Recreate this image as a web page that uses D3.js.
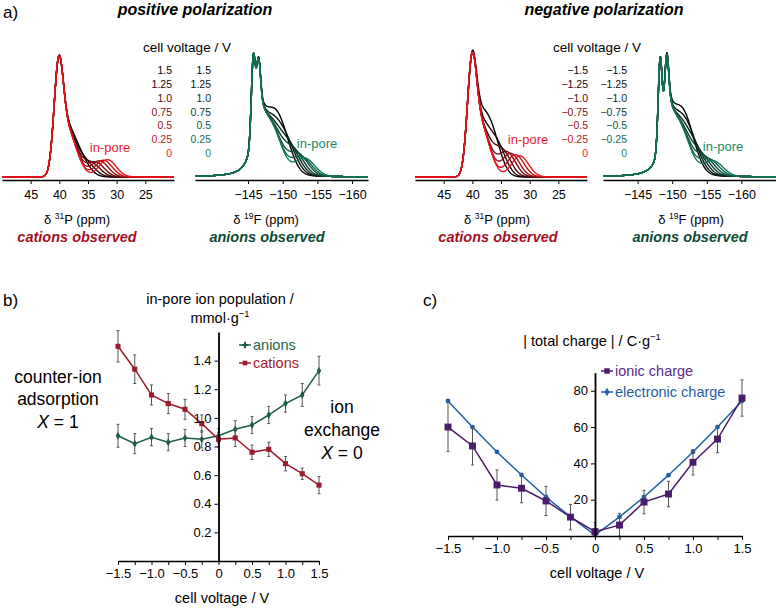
<!DOCTYPE html>
<html>
<head>
<meta charset="utf-8">
<script src="https://cdn.jsdelivr.net/npm/d3@7"></script>
<style>
  body { margin: 0; background: #fff; }
  svg { font-family: "Liberation Sans", Arial, sans-serif; }
</style>
</head>
<body>
<div id="chart"></div>
<script>
const width = 776, height = 608;

// ---------- panel a: NMR spectra ----------
// legend labels, top row first
const posLabels = ["1.5", "1.25", "1.0", "0.75", "0.5", "0.25", "0"];
const negLabels = ["\u22121.5", "\u22121.25", "\u22121.0", "\u22120.75", "\u22120.5", "\u22120.25", "0"];
const pTicks = [45, 40, 35, 30, 25];
const fTicks = [-145, -150, -155, -160];

// line components: [centre ppm, height, width, 0 = gauss / 1 = lorentz]
const pBulkPos = [[40.15, 0.8, 0.8, 0], [38.8, 0.3, 1.2, 0], [37.2, 0.13, 1.3, 0]];
const pBulkNeg = [[40.1, 0.8, 0.8, 0], [38.8, 0.32, 1.2, 0], [37.3, 0.15, 1.3, 0]];
const fBulkPos = [[-145.75, 0.62, 0.28, 0], [-146.5, 0.36, 0.28, 0], [-146.55, 0.42, 1.1, 1], [-148.3, 0.34, 1.5, 0]];
const fBulkNeg = [[-148.25, 0.68, 0.28, 0], [-149.2, 0.40, 0.28, 0], [-149.3, 0.42, 1.1, 1], [-151.0, 0.34, 1.5, 0]];

// in-pore peak per trace, index 0 = 0 V ... index 6 = +/-1.5 V
const pPoreShiftPos = [31.6, 32.3, 33.0, 33.7, 34.4, 35.2, 36.0];
const pPoreHeightPos = [0.14, 0.135, 0.13, 0.12, 0.11, 0.10, 0.09];
const pPoreShiftNeg = [31.7, 32.5, 33.3, 34.0, 34.8, 35.6, 36.4];
const pPoreHeightNeg = [0.17, 0.18, 0.19, 0.20, 0.21, 0.23, 0.25];
const fPoreShiftPos = [-153.2, -152.7, -152.2, -151.6, -151.1, -150.6, -150.0];
const fPoreHeightPos = [0.14, 0.15, 0.17, 0.19, 0.20, 0.21, 0.22];
const fPoreShiftNeg = [-155.9, -155.3, -154.7, -154.1, -153.5, -152.9, -152.3];
const fPoreHeightNeg = [0.12, 0.13, 0.14, 0.15, 0.16, 0.17, 0.18];

// ---------- panels b and c ----------
const voltages = [-1.5, -1.25, -1.0, -0.75, -0.5, -0.25, 0, 0.25, 0.5, 0.75, 1.0, 1.25, 1.5];
const cations = [1.50, 1.34, 1.16, 1.10, 1.06, 0.96, 0.85, 0.86, 0.76, 0.78, 0.68, 0.61, 0.53];
const cationErr = [0.11, 0.10, 0.07, 0.07, 0.07, 0.06, 0.05, 0.06, 0.05, 0.05, 0.05, 0.04, 0.06];
const anions = [0.875, 0.82, 0.865, 0.83, 0.86, 0.85, 0.875, 0.92, 0.95, 1.02, 1.10, 1.16, 1.33];
const anionErr = [0.08, 0.07, 0.06, 0.06, 0.06, 0.06, 0.05, 0.06, 0.06, 0.06, 0.06, 0.08, 0.10];
const popTicks = [0.2, 0.4, 0.6, 0.8, 1.0, 1.2, 1.4];

const electronic = [74.4, 60, 46.3, 33.6, 21.5, 10.5, 0.5, 10.5, 21.5, 33.5, 46.3, 60, 74.4];
const ionic = [60, 49.6, 28.1, 26.3, 19.3, 10.4, 2.4, 6, 18.7, 23.1, 40.6, 53.4, 76];
const ionicErr = [13.5, 10.5, 8.3, 8, 8, 7, 5, 6.5, 6.5, 7, 7, 7.5, 10];
const chargeTicks = [20, 40, 60, 80];

const svg = d3.select("#chart")
    .append("svg")
    .attr("width", width)
    .attr("height", height);

function label(x, y, str, size, opts = {}) {
    return svg.append("text")
        .attr("x", x).attr("y", y)
        .attr("font-size", size)
        .attr("text-anchor", opts.anchor || "middle")
        .attr("font-weight", opts.weight || null)
        .attr("font-style", opts.style || null)
        .attr("fill", opts.fill || "#000")
        .text(str);
}

// text with a small raised part: [before, superscript, after]
function supLabel(x, y, parts, size, opts = {}) {
    const t = label(x, y, "", size, opts);
    t.append("tspan").text(parts[0]);
    t.append("tspan").attr("font-size", size * 0.65).attr("dy", -size * 0.4).text(parts[1]);
    if (parts[2]) t.append("tspan").attr("dy", size * 0.4).text(parts[2]);
    return t;
}

// ---------- panel a ----------
label(3, 18, "a)", 17, { anchor: "start" });
label(195, 15, "positive polarization", 16, { weight: "bold", style: "italic" });
label(604, 15, "negative polarization", 16, { weight: "bold", style: "italic" });
label(187, 52, "cell voltage / V", 13.5);
label(597, 52, "cell voltage / V", 13.5);

const red = "#e8141c", green = "#10765a";
const redText = "#e8202a", greenText = "#178a66";

function legendColumn(xRight, labels, endColor) {
    labels.forEach((s, i) => {
        const c = d3.interpolateRgb(endColor, "#000")((6 - i) / 6);
        label(xRight, 74 + i * 13.85, s, 10.5, { anchor: "end", fill: c });
    });
}
legendColumn(172, posLabels, redText);
legendColumn(211, posLabels, greenText);
legendColumn(588, negLabels, redText);
legendColumn(627, negLabels, greenText);

const spectra = [
    { x0: 2, x1: 174, domain: [50, 20], ticks: pTicks, bulk: pBulkPos, shift: pPoreShiftPos, amp: pPoreHeightPos,
      poreW: 1.5, color: red, title: ["\u03b4 ", "31", "P (ppm)"], titleX: 77,
      obs: "cations observed", obsColor: "#a3101f", obsX: 77, pore: [110, 152], poreColor: redText },
    { x0: 195, x1: 368, domain: [-137.35, -162.3], ticks: fTicks, bulk: fBulkPos, shift: fPoreShiftPos, amp: fPoreHeightPos,
      poreW: 1.4, color: green, title: ["\u03b4 ", "19", "F (ppm)"], titleX: 266,
      obs: "anions observed", obsColor: "#0d4a36", obsX: 267, pore: [317, 148], poreColor: greenText },
    { x0: 415, x1: 587, domain: [50, 20], ticks: pTicks, bulk: pBulkNeg, shift: pPoreShiftNeg, amp: pPoreHeightNeg,
      poreW: 1.5, color: red, title: ["\u03b4 ", "31", "P (ppm)"], titleX: 497,
      obs: "cations observed", obsColor: "#a3101f", obsX: 498, pore: [528, 144], poreColor: redText },
    { x0: 603, x1: 776, domain: [-140, -165], ticks: fTicks, bulk: fBulkNeg, shift: fPoreShiftNeg, amp: fPoreHeightNeg,
      poreW: 1.4, color: green, title: ["\u03b4 ", "19", "F (ppm)"], titleX: 691,
      obs: "anions observed", obsColor: "#0d4a36", obsX: 690, pore: [723, 151], poreColor: greenText }
];

function component(c, ppm) {
    const u = (ppm - c[0]) / c[2];
    return c[3] ? c[1] / (1 + u * u) : c[1] * Math.exp(-0.5 * u * u);
}

spectra.forEach(p => {
    const x = d3.scaleLinear().domain(p.domain).range([p.x0, p.x1]);
    const y = d3.scaleLinear().domain([0, 1]).range([177, 53]);
    const lo = Math.min(...p.domain), hi = Math.max(...p.domain);
    const grid = d3.range(lo, hi + 0.001, 0.05);
    const line = d3.line().x(d => x(d[0])).y(d => y(d[1]));

    // black (highest voltage) first, 0 V trace drawn last on top
    for (let k = 6; k >= 0; k--) {
        const comps = p.bulk.concat([[p.shift[k], p.amp[k], p.poreW, 0]]);
        const pts = grid.map(ppm => [ppm, d3.sum(comps, c => component(c, ppm))]);
        svg.append("path")
            .attr("d", line(pts))
            .attr("fill", "none")
            .attr("stroke", d3.interpolateRgb(p.color, "#000")(k / 6))
            .attr("stroke-width", 1.4)
            .attr("stroke-linejoin", "round");
    }

    const ax = svg.append("g")
        .attr("transform", "translate(0,180)")
        .call(d3.axisBottom(x).tickValues(p.ticks).tickSize(4).tickSizeOuter(0).tickPadding(6));
    ax.attr("font-family", null).attr("font-size", 12.5);
    ax.select(".domain").attr("stroke-width", 1.5);
    ax.selectAll(".tick line").attr("stroke-width", 1);

    supLabel(p.titleX, 224, p.title, 13);
    label(p.obsX, 242, p.obs, 14.5, { weight: "bold", style: "italic", fill: p.obsColor });
    label(p.pore[0], p.pore[1], "in-pore", 13, { fill: p.poreColor });
});

// ---------- shared helpers for b and c ----------
function xAxis(g, scale) {
    g.call(d3.axisBottom(scale)
        .tickValues(voltages)
        .tickSize(4).tickSizeOuter(0).tickPadding(4)
        .tickFormat(d => (Math.round(d * 4) % 2 === 0) ? (d === 0 ? "0" : d3.format(".1f")(d)) : ""));
    g.attr("font-family", null).attr("font-size", 13);
    g.select(".domain").attr("stroke-width", 1.5);
}

function yAxis(g, scale, ticks, fmt) {
    g.call(d3.axisLeft(scale).tickValues(ticks).tickSize(4).tickSizeOuter(0).tickPadding(3).tickFormat(fmt));
    g.attr("font-family", null).attr("font-size", 13);
    g.select(".domain").attr("stroke-width", 1.8);
}

function series(xs, ys, values, errs, color, symbol, size, lw) {
    const g = svg.append("g");
    if (errs) {
        voltages.forEach((v, i) => {
            const cx = xs(v), top = ys(values[i] + errs[i]), bot = ys(Math.max(0, values[i] - errs[i]));
            g.append("line").attr("x1", cx).attr("x2", cx).attr("y1", top).attr("y2", bot)
                .attr("stroke", "#555").attr("stroke-width", 1);
            [top, bot].forEach(yy => g.append("line")
                .attr("x1", cx - 1.5).attr("x2", cx + 1.5).attr("y1", yy).attr("y2", yy)
                .attr("stroke", "#555").attr("stroke-width", 1));
        });
    }
    g.append("path")
        .attr("d", d3.line().x((d, i) => xs(voltages[i])).y(d => ys(d))(values))
        .attr("fill", "none").attr("stroke", color).attr("stroke-width", lw);
    g.selectAll(".pt").data(values).enter().append("path")
        .attr("transform", (d, i) => `translate(${xs(voltages[i])},${ys(d)})`)
        .attr("d", d3.symbol().type(symbol).size(size))
        .attr("fill", color);
}

function legendItem(x, y, str, color, symbol, size, textColor) {
    svg.append("line").attr("x1", x - 6).attr("x2", x + 6).attr("y1", y).attr("y2", y)
        .attr("stroke", color).attr("stroke-width", 1.5);
    svg.append("path").attr("transform", `translate(${x},${y})`)
        .attr("d", d3.symbol().type(symbol).size(size)).attr("fill", color);
    label(x + 8, y + 5, str, 14.5, { anchor: "start", fill: textColor });
}

// ---------- panel b ----------
const cationColor = "#9e1b2e", anionColor = "#1b5e45";
const xb = d3.scaleLinear().domain([-1.5, 1.5]).range([118, 319]);
const yb = d3.scaleLinear().domain([0, 1.6]).range([561, 332]);

label(3, 306, "b)", 17, { anchor: "start" });
label(220, 304, "in-pore ion population /", 14.5);
supLabel(220, 323, ["mmol\u00b7g", "\u22121"], 14.5);

series(xb, yb, anions, anionErr, anionColor, d3.symbolDiamond, 18, 1.5);
series(xb, yb, cations, cationErr, cationColor, d3.symbolSquare, 26, 1.5);

svg.append("g").attr("transform", `translate(0,${yb(0)})`).call(g => xAxis(g, xb));
svg.append("g").attr("transform", `translate(${xb(0)},0)`)
    .call(g => yAxis(g, yb, popTicks, d3.format(".1f")));

legendItem(245, 345, "anions", anionColor, d3.symbolCross, 22, "#1b6650");
legendItem(245, 363, "cations", cationColor, d3.symbolSquare, 22, "#a01c2c");

label(58, 383, "counter-ion", 17.5);
label(58, 405, "adsorption", 17.5);
const x1 = label(58, 428, "", 17.5);
x1.append("tspan").attr("font-style", "italic").text("X");
x1.append("tspan").text(" = 1");
label(342, 413, "ion", 17.5);
label(342, 436, "exchange", 17.5);
const x0 = label(342, 459, "", 17.5);
x0.append("tspan").attr("font-style", "italic").text("X");
x0.append("tspan").text(" = 0");

label(222, 603, "cell voltage / V", 14.5);

// ---------- panel c ----------
const ionicColor = "#4b1c6b", elecColor = "#1e5fa5";
const xc = d3.scaleLinear().domain([-1.5, 1.5]).range([448, 742]);
const yc = d3.scaleLinear().domain([0, 90]).range([536, 372.6]);

label(423, 306, "c)", 17, { anchor: "start" });
supLabel(592, 346, ["| total charge | / C\u00b7g", "\u22121"], 14.5);

series(xc, yc, electronic, null, elecColor, d3.symbolCircle, 18, 1.5);
series(xc, yc, ionic, ionicErr, ionicColor, d3.symbolSquare, 48, 1.5);

svg.append("g").attr("transform", `translate(0,${yc(0)})`).call(g => xAxis(g, xc));
svg.append("g").attr("transform", `translate(${xc(0)},0)`)
    .call(g => yAxis(g, yc, chargeTicks, d3.format("d")));

legendItem(607, 371, "ionic charge", ionicColor, d3.symbolSquare, 30, "#5b2c83");
legendItem(607, 392, "electronic charge", elecColor, d3.symbolDiamond, 22, "#1f5fa0");

label(597, 578, "cell voltage / V", 14.5);
</script>
</body>
</html>
